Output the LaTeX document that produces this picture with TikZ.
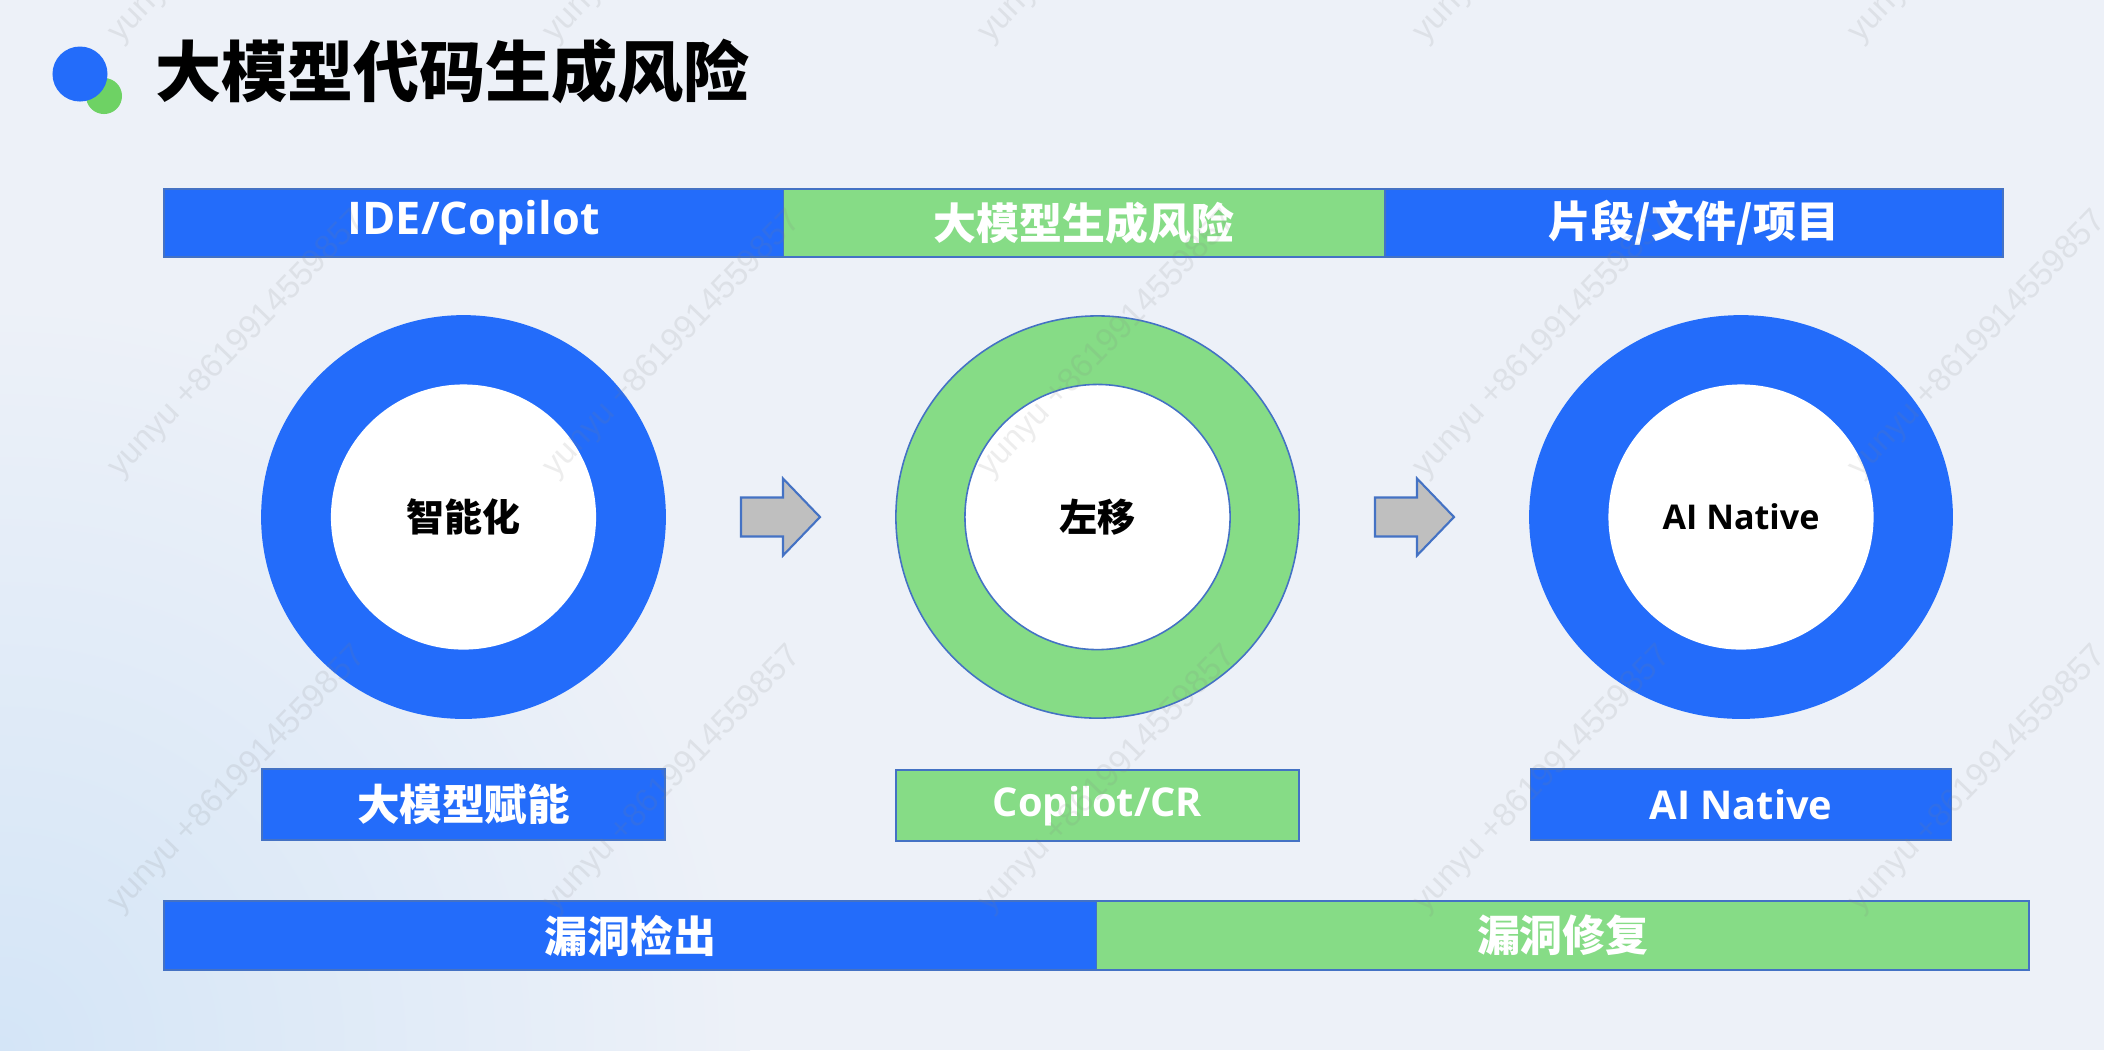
\documentclass[tikz,border=0pt]{standalone}
\usepackage{fontspec}
\setmainfont{Noto Sans CJK SC}
\newfontfamily\latin{Open Sans}
\newfontfamily\wmfont{Liberation Sans}
\usetikzlibrary{positioning,calc,shapes.geometric}
\definecolor{blueA}{RGB}{35,108,250}
\definecolor{greenA}{RGB}{134,220,134}
\definecolor{edgeB}{RGB}{68,114,196}
\definecolor{arrowG}{RGB}{191,191,191}
\definecolor{bgA}{RGB}{237,241,248}
\definecolor{bgB}{RGB}{212,229,247}
\definecolor{bulletG}{RGB}{110,210,100}
\tikzset{
  basic/.style   = {inner sep=0pt, outer sep=0pt, line width=0.45pt},
  bar/.style     = {basic, rectangle, draw=edgeB, minimum height=0.68cm, text=white,
  font=\bfseries\fontsize{12.2pt}{14pt}\selectfont},
  ring/.style    = {basic, ellipse, minimum width=4.03cm, minimum height=4.02cm},
  core/.style    = {basic, circle, fill=white, minimum size=2.65cm,
  font=\bfseries\fontsize{10.8pt}{13pt}\selectfont},
  namebox/.style = {basic, rectangle, draw=edgeB, minimum height=0.71cm, text=white,
  font=\bfseries\fontsize{12.1pt}{14pt}\selectfont},
  latinbox/.style = {font=\latin\bfseries\fontsize{11.3pt}{13pt}\selectfont},
  blockarrow/.style = {draw=edgeB, fill=arrowG, line width=0.6pt, line join=miter},
  heading/.style = {basic, anchor=west, font=\bfseries\fontsize{18.8pt}{22pt}\selectfont},
  dot/.style     = {basic, circle},
  wmtext/.style  = {basic, text=gray, text opacity=0.14, rotate=46, anchor=base west,
  font=\wmfont\fontsize{9.4pt}{11pt}\selectfont}
}

\begin{document}
\begin{tikzpicture}[x=0.01cm,y=-0.01cm]
\useasboundingbox (0,0) rectangle (2104,1050);
% background
\fill[bgA] (0,0) rectangle (2104,1050);
\begin{scope}
\clip (0,0) rectangle (2104,1050);
\shade[inner color=bgB, outer color=bgA] (0,1050) circle (750);
\end{scope}

% title
\node[dot, fill=bulletG, minimum size=0.36cm] (dotg) at (104,96) {};
\node[dot, fill=blueA, minimum size=0.55cm] (dotb) at (80,74) {};
\node[heading] (title) at (155,71) {大模型代码生成风险};

% top bar
\node[bar, fill=blueA, minimum width=6.19cm, anchor=north west,
  font=\latin\bfseries\fontsize{12.8pt}{15pt}\selectfont] (ide) at (164,189) {IDE/Copilot};
\node[bar, fill=greenA, minimum width=6.01cm, right=0pt of ide] (risk) {大模型生成风险};
\node[bar, fill=blueA, minimum width=6.18cm, right=0pt of risk] (unit) {片段/文件/项目};

% rings
\node[ring, fill=blueA, draw=blueA] (ring1) at (463.5,517) {};
\node[core] (core1) at (ring1) {智能化};
\node[ring, fill=greenA, draw=edgeB] (ring2) at (1097.5,517) {};
\node[core, draw=edgeB] (core2) at (ring2) {左移};
\node[ring, fill=blueA, draw=blueA, minimum width=4.22cm] (ring3) at (1741,517) {};
\node[core, font=\latin\bfseries\fontsize{9.7pt}{12pt}\selectfont] (core3) at (ring3) {AI Native};

% arrows
\path (ring1.east) -- (ring2.west) coordinate[midway] (gap1);
\path (ring2.east) -- (ring3.west) coordinate[midway] (gap2);
\foreach \g in {gap1,gap2}
  \draw[blockarrow] ($(\g)+(-39.5,-19.5)$) -- ($(\g)+(2.5,-19.5)$) -- ($(\g)+(2.5,-38.5)$)
    -- ($(\g)+(39.5,0)$) -- ($(\g)+(2.5,38.5)$) -- ($(\g)+(2.5,19.5)$)
    -- ($(\g)+(-39.5,19.5)$) -- cycle;

% labels below
\node[namebox, fill=blueA, minimum width=4.03cm, below=0.51cm of ring1] (power) {大模型赋能};
\node[namebox, latinbox, fill=greenA, minimum width=4.03cm, below=0.52cm of ring2] (cr) {Copilot/CR};
\node[namebox, latinbox, fill=blueA, minimum width=4.21cm, below=0.51cm of ring3] (native) {AI Native};

% bottom bar
\node[bar, fill=blueA, minimum width=9.32cm, minimum height=0.69cm, anchor=north west] (detect) at (164,901) {漏洞检出};
\node[bar, fill=greenA, minimum width=9.32cm, minimum height=0.69cm, right=0pt of detect] (repair) {漏洞修复};

% watermark
\foreach \wx in {120,555,990,1425,1860}
  \foreach \wy in {43,478,913}
    \node[wmtext] (wm-\wx-\wy) at (\wx,\wy) {yunyu +8619914559857};
\end{tikzpicture}
\end{document}
